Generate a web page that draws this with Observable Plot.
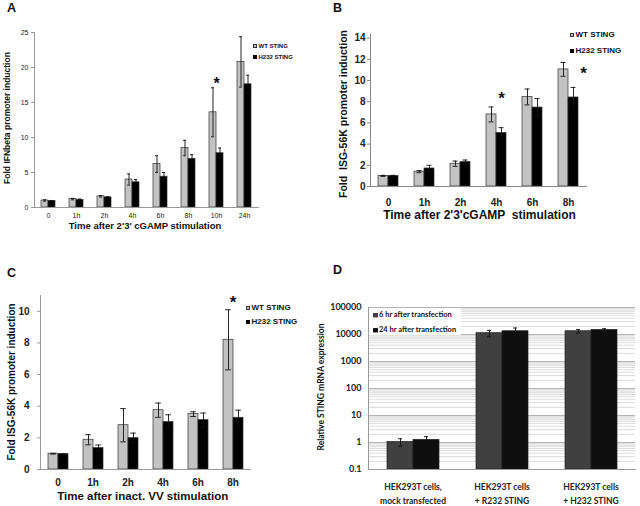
<!DOCTYPE html>
<html><head><meta charset="utf-8">
<script src="https://cdn.jsdelivr.net/npm/d3@7"></script>
<script src="https://cdn.jsdelivr.net/npm/@observablehq/plot@0.6"></script>
<style>
body{margin:0;background:#fff;}
#fig{position:relative;width:640px;height:506px;overflow:hidden;background:#fff;font-family:"Liberation Sans",Arial,sans-serif;color:#111;}
#fig svg{position:absolute;}
.lab{position:absolute;font-weight:bold;white-space:pre;line-height:1;}
.rot{transform:translate(-50%,-50%) rotate(-90deg);}
.ctr{transform:translate(-50%,-50%);}
.leg{position:absolute;font-weight:bold;white-space:nowrap;line-height:1;display:flex;align-items:center;transform:translateY(-50%);}
.sw{display:inline-block;box-sizing:border-box;}
</style></head><body><div id="fig"></div>
<script>
// ---------- data ----------
const seriesABC = ["WT STING", "H232 STING"];

const timesA = ["0","1h","2h","4h","6h","8h","10h","24h"];
const wtA     = [1.0, 1.2, 1.6, 4.0, 6.2, 8.5, 13.6, 20.8];
const wtAerr  = [0.1, 0.1, 0.1, 0.8, 1.2, 1.1, 3.5, 3.6];
const h232A   = [0.95, 1.1, 1.45, 3.6, 4.4, 6.95, 7.75, 17.6];
const h232Aerr= [0.05, 0.1, 0.1, 0.4, 0.6, 0.6, 0.75, 1.3];
const starsA  = [{cat: "10h", y: 17.6}];

const timesB = ["0","1h","2h","4h","6h","8h"];
const wtB     = [1.0, 1.4, 2.15, 6.8, 8.45, 11.05];
const wtBerr  = [0.05, 0.1, 0.25, 0.7, 0.75, 0.65];
const h232B   = [1.0, 1.7, 2.3, 5.05, 7.45, 8.4];
const h232Berr= [0.05, 0.3, 0.2, 0.5, 0.85, 0.95];
const starsB1 = [{cat: "4h", y: 8.3}];
const starsB2 = [{cat: "8h", y: 10.66}];

const timesC = ["0","1h","2h","4h","6h","8h"];
const wtC     = [1.0, 1.88, 2.8, 3.75, 3.5, 8.2];
const wtCerr  = [0.02, 0.32, 1.05, 0.45, 0.15, 1.9];
const h232C   = [0.97, 1.35, 1.98, 3.0, 3.12, 3.27];
const h232Cerr= [0.02, 0.2, 0.32, 0.46, 0.45, 0.48];
const starsC  = [{cat: "8h", y: 10.55}];

const groupsD = ["HEK293T cells,\nmock transfected", "HEK293T cells\n+ R232 STING", "HEK293T cells\n+ H232 STING"];
const seriesD = ["6 hr after transfection", "24 hr after transfection"];
const hr6     = [1.05, 11200, 13200];
const hr6err  = [0.33, 3000, 2000];
const hr24    = [1.25, 13200, 14800];
const hr24err = [0.4, 4200, 1600];

const ticksA = [0,5,10,15,20,25];
const ticksB = [0,2,4,6,8,10,12,14];
const ticksC = [0,2,4,6,8,10];
const ticksD = [0.1,1,10,100,1000,10000,100000];

// ---------- helpers ----------
function grouped(cats, names, vals, errs) {
  const out = [];
  cats.forEach((c, i) => names.forEach((s, j) => out.push({cat: c, series: s, v: vals[j][i], e: errs[j][i]})));
  return out;
}
const dataA = grouped(timesA, seriesABC, [wtA, h232A], [wtAerr, h232Aerr]);
const dataB = grouped(timesB, seriesABC, [wtB, h232B], [wtBerr, h232Berr]);
const dataC = grouped(timesC, seriesABC, [wtC, h232C], [wtCerr, h232Cerr]);
const dataD = grouped(groupsD, seriesD, [hr6, hr24], [hr6err, hr24err]);

const fig = document.getElementById("fig");
function place(el, left, top) { el.style.left = left + "px"; el.style.top = top + "px"; fig.appendChild(el); }
function label(text, x, y, size, cls, extra) {
  const d = document.createElement("div");
  d.className = "lab " + cls;
  d.textContent = text;
  d.style.fontSize = size + "px";
  if (extra) Object.assign(d.style, extra);
  place(d, x, y);
}
function legendItem(text, x, y, size, sw, fill, stroke, font) {
  const d = document.createElement("div");
  d.className = "leg";
  d.style.fontSize = size + "px";
  if (font) d.style.fontFamily = font;
  const s = document.createElement("span");
  s.className = "sw";
  s.style.width = sw + "px"; s.style.height = sw + "px";
  s.style.background = fill; s.style.border = "0.8px solid " + stroke;
  s.style.marginRight = "1.5px";
  d.appendChild(s);
  d.appendChild(document.createTextNode(text));
  place(d, x, y);
}

function barPanel(o) {
  const base = o.yType === "log" ? o.yDomain[0] : 0;
  const m = [
    Plot.barY(o.data, {fx: "cat", x: "series", y1: () => base, y2: "v", fill: "series", stroke: o.barStroke, strokeWidth: 0.7}),
    Plot.ruleX(o.data, {fx: "cat", x: "series", y1: d => d.v - d.e, y2: d => d.v + d.e, stroke: "#111", strokeWidth: 0.9}),
    Plot.tickY(o.data, {fx: "cat", x: "series", y: d => d.v + d.e, insetLeft: o.cap, insetRight: o.cap, stroke: "#111", strokeWidth: 0.9}),
    Plot.tickY(o.data, {fx: "cat", x: "series", y: d => d.v - d.e, insetLeft: o.cap, insetRight: o.cap, stroke: "#111", strokeWidth: 0.9}),
    Plot.frame({anchor: "bottom", stroke: o.axisColor}),
    Plot.frame({anchor: "left", facetAnchor: "left", stroke: o.axisColor}),
    Plot.axisY({ticks: o.yTicks, tickSize: o.tickSize, tickPadding: o.yPad, fontSize: o.yFont, fontWeight: o.bold ? "bold" : "normal", fill: "#222", stroke: o.axisColor, label: null, tickFormat: o.yFormat}),
    Plot.axisFx({anchor: "bottom", tickSize: 0, tickPadding: o.xPad, fontSize: o.xFont, fontWeight: o.bold ? "bold" : "normal", fill: "#222", label: null, lineHeight: o.lineHeight || 1})
  ];
  if (o.extra) m.unshift(...o.extra);
  if (o.after) m.push(...o.after);
  const svg = Plot.plot({
    width: o.width, height: o.height,
    marginLeft: o.ml, marginRight: o.mr, marginTop: o.mt, marginBottom: o.mb,
    style: {fontFamily: o.font, background: "transparent", overflow: "visible"},
    fx: {domain: o.cats, padding: 0, label: null},
    x: {domain: o.series, paddingInner: 0, paddingOuter: o.po, axis: null},
    y: {type: o.yType || "linear", domain: o.yDomain, label: null},
    color: {domain: o.series, range: o.colors},
    marks: m
  });
  place(svg, o.left, o.top);
}

const SANS = "Liberation Sans, Arial, sans-serif";
const starMark = (data, size, opts = {}) => Plot.text(data, {fx: "cat", y: "y", text: () => "*", fontSize: size, fontWeight: "bold", fill: "#111", ...opts});

// ---------- Panel A ----------
barPanel({
  left: 0, top: 0, width: 320, height: 240, ml: 31, mr: 60, mt: 32, mb: 33,
  data: dataA, cats: timesA, series: seriesABC, po: 0.79, cap: 2,
  yDomain: [0, 25], yTicks: ticksA, tickSize: 3, yPad: 3, yFont: 7, xFont: 7, xPad: 5.5, bold: false,
  colors: ["#c2c2c2", "#000"], barStroke: "#333", axisColor: "#999", font: SANS,
  after: [starMark(starsA, 16)]
});
label("A", 7, 1.5, 12.5, "");
label("Fold IFNbeta promoter induction", 6.5, 117.5, 8.5, "rot");
label("Time after 2'3' cGAMP stimulation", 145, 225.7, 9.5, "ctr");
legendItem("WT STING", 253, 45.7, 6, 4, "#c2c2c2", "#333");
legendItem("H232 STING", 253, 57.3, 6, 4, "#000", "#000");

// ---------- Panel B ----------
barPanel({
  left: 320, top: 0, width: 320, height: 240, ml: 50, mr: 53.3, mt: 33.4, mb: 54,
  data: dataB, cats: timesB, series: seriesABC, po: 0.64, cap: 2.5,
  yDomain: [0, 14.4], yTicks: ticksB, tickSize: 3, yPad: 2, yFont: 10, xFont: 10, xPad: 12, bold: true,
  colors: ["#c2c2c2", "#000"], barStroke: "#333", axisColor: "#888", font: SANS,
  after: [starMark(starsB1, 17, {x: () => "H232 STING"}), starMark(starsB2, 17, {x: () => "H232 STING", dx: 10})]
});
label("B", 333, 1.5, 12.5, "");
label("Fold  ISG-56K promoter induction", 342.5, 113.5, 10.5, "rot");
label("Time after 2'3'cGAMP  stimulation", 479.5, 215, 12, "ctr");
legendItem("WT STING", 570, 35, 8, 4, "#c2c2c2", "#333");
legendItem("H232 STING", 570, 50.7, 8, 4, "#000", "#000");

// ---------- Panel C ----------
barPanel({
  left: 0, top: 240, width: 320, height: 266, ml: 39, mr: 70, mt: 55, mb: 37,
  data: dataC, cats: timesC, series: seriesABC, po: 0.71, cap: 2.2,
  yDomain: [0, 11], yTicks: ticksC, tickSize: 3, yPad: 8, yFont: 10, xFont: 10, xPad: 9.5, bold: true,
  colors: ["#c2c2c2", "#000"], barStroke: "#333", axisColor: "#999", font: SANS,
  after: [starMark(starsC, 17)]
});
label("C", 7, 266.5, 12.5, "");
label("Fold ISG-56K promoter induction", 11.5, 381.5, 10, "rot");
label("Time after inact. VV stimulation", 142.7, 497, 11.5, "ctr");
legendItem("WT STING", 246, 308.3, 8, 4, "#c2c2c2", "#333");
legendItem("H232 STING", 246, 321.7, 8, 4, "#000", "#000");

// ---------- Panel D ----------
const logTicks = d3.scaleLog().domain([0.1, 100000]).ticks();
const minorD = logTicks.filter(t => !ticksD.some(k => Math.abs(k - t) / k < 1e-9));
const LATO = "Lato, 'Open Sans', sans-serif";
barPanel({
  left: 320, top: 240, width: 320, height: 266, ml: 48, mr: 5, mt: 67, mb: 37,
  data: dataD, cats: groupsD, series: seriesD, po: 0.71, cap: 11,
  yType: "log", yDomain: [0.1, 100000], yTicks: ticksD, tickSize: 0, yPad: 7, yFont: 9, xFont: 8.5, xPad: 11, bold: true,
  lineHeight: 1.6, yFormat: d => String(d),
  colors: ["#404040", "#0f0f0f"], barStroke: "#222", axisColor: "#999", font: LATO,
  extra: [Plot.gridY(minorD, {stroke: "#d2d2d2", strokeOpacity: 1, strokeWidth: 0.8}), Plot.gridY(ticksD, {stroke: "#b5b5b5", strokeOpacity: 1})]
});
const box = document.createElement("div");
Object.assign(box.style, {position: "absolute", width: "92px", height: "27px", background: "#fff"});
place(box, 368.5, 307.5);
label("D", 333, 264, 12.5, "");
label("Relative STING mRNA expression", 320.5, 387, 8.5, "rot", {fontFamily: LATO});
legendItem("6 hr after transfection", 373, 315, 7.5, 4.5, "#404040", "#404040", LATO);
legendItem("24 hr after transfection", 373, 330, 7.5, 4.5, "#0f0f0f", "#0f0f0f", LATO);
</script></body></html>
